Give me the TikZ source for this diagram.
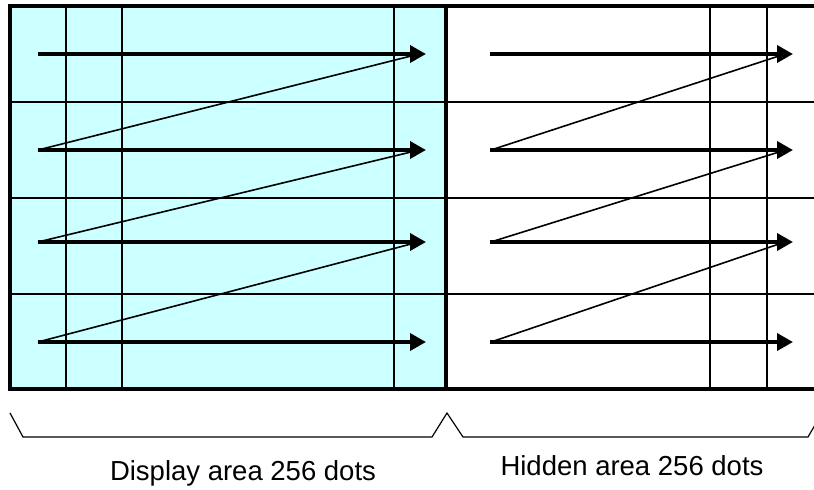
\documentclass[tikz,border=0pt]{standalone}
\usepackage{fontspec}
\setmainfont{Liberation Sans}
\usetikzlibrary{arrows.meta}
\definecolor{dispcyan}{HTML}{CCFFFF}
\begin{document}
\begin{tikzpicture}[x=1pt,y=-1pt,
  frame/.style={line width=3.4pt},
  grid/.style={line width=1.6pt},
  scanarrow/.style={line width=3.6pt,-{Triangle[length=16pt,width=17pt]}},
  retrace/.style={line width=1.6pt},
  bracestyle/.style={line width=1.2pt},
  label/.style={font=\fontsize{27.5}{30}\selectfont,anchor=base,inner sep=0pt}]
\useasboundingbox (0,0) rectangle (814,490);
% display area fill
\fill[dispcyan] (10,6) rectangle (446,389);
% horizontal grid lines
\foreach \y in {102,198,294} \draw[grid] (10,\y) -- (814,\y);
% vertical grid lines
\foreach \x in {66,122,394,710,767} \draw[grid] (\x,6) -- (\x,389);
% frame
\draw[frame] (814,6) -- (10,6) -- (10,389) -- (814,389);
\draw[frame] (446,6) -- (446,389);
% scan arrows
\foreach \i/\y in {1/54,2/150,3/242,4/342}{
  \coordinate (ds\i) at (38,\y);
  \coordinate (de\i) at (426,\y);
  \coordinate (dr\i) at (411,\y+2);
  \coordinate (hs\i) at (490,\y);
  \coordinate (hd\i) at (494,\y-1);
  \coordinate (he\i) at (793,\y);
  \coordinate (hr\i) at (779,\y+2);
  \draw[scanarrow] (ds\i) -- (de\i);
  \draw[scanarrow] (hs\i) -- (he\i);
}
% retrace lines
\draw[retrace] (ds2) -- (dr1);
\draw[retrace] (ds3) -- (dr2);
\draw[retrace] (ds4) -- (dr3);
\draw[retrace] (hd2) -- (hr1);
\draw[retrace] (hd3) -- (hr2);
\draw[retrace] (hd4) -- (hr3);
% braces
\coordinate (bl) at (10,413);
\coordinate (bpk) at (447,413);
\coordinate (br) at (822,413);
\draw[bracestyle] (bl) -- (23,437) -- (432,437) -- (bpk) -- (463,437) -- (808,437) -- (br);
% labels
\node[label] (disp) at (243,480) {Display area 256 dots};
\node[label] (hid) at (632,475) {Hidden area 256 dots};
\end{tikzpicture}
\end{document}
